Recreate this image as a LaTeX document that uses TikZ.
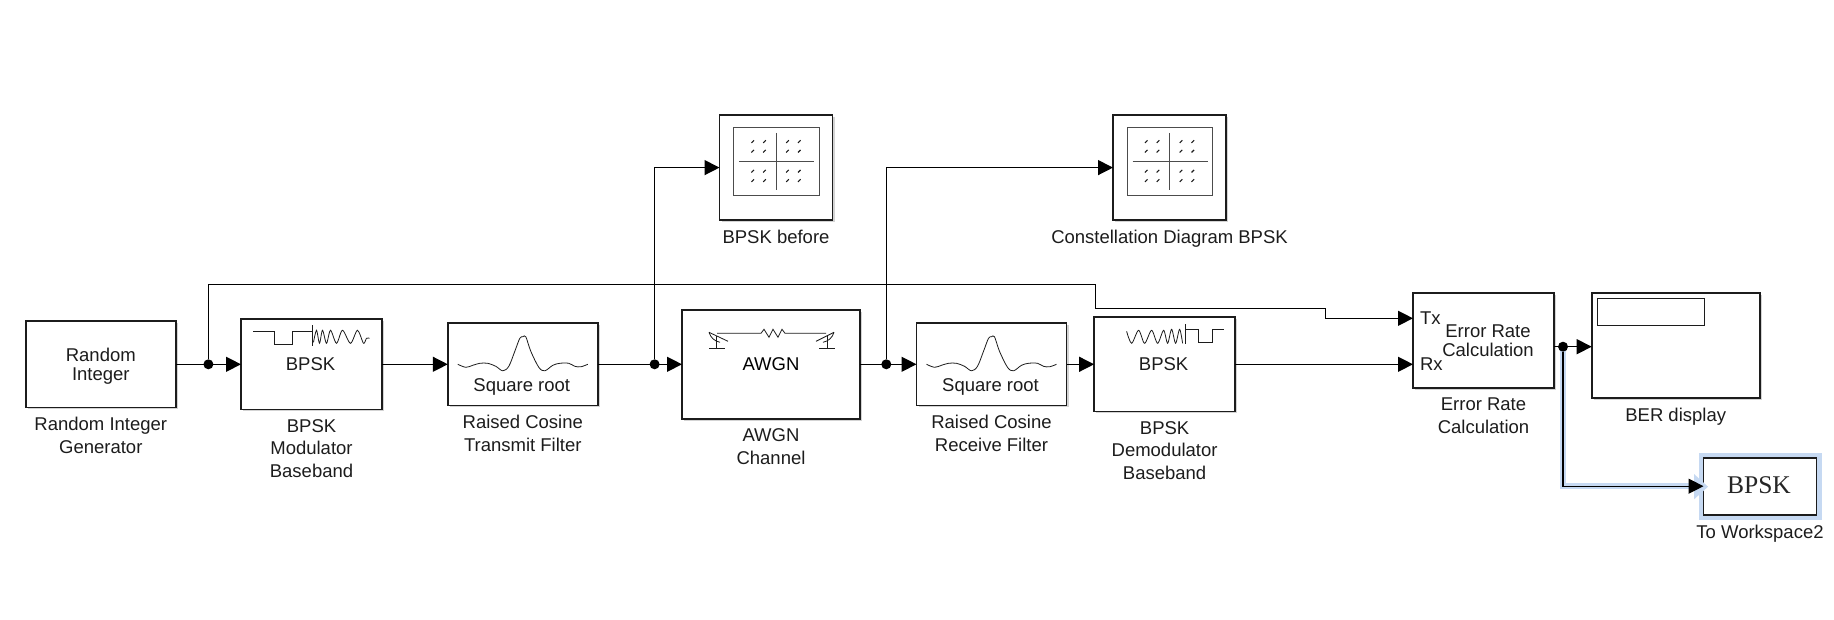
\documentclass[tikz,border=0pt]{standalone}
\usepackage{fontspec}
\setmainfont{Liberation Sans}
\newfontfamily\wsfont{Liberation Serif}
\usetikzlibrary{arrows.meta}
\usetikzlibrary{positioning}
\usetikzlibrary{shadows}
\definecolor{glowblue}{HTML}{C6D9F2}
\definecolor{inkdark}{HTML}{1C1C1C}
\tikzset{
    block/.style={draw=inkdark, line width=1.6pt, fill=white, rectangle, inner sep=0pt, outer sep=0pt, align=center,
        font=\fontsize{18.5}{19}\selectfont, drop shadow={shadow xshift=2pt, shadow yshift=-2pt, opacity=0.35, fill=gray}},
    caption/.style={inner sep=0pt, outer sep=0pt, align=center, font=\fontsize{18.5}{22.7}\selectfont, text=inkdark},
    intext/.style={inner sep=0pt, outer sep=0pt, align=center, font=\fontsize{18.5}{19}\selectfont, text=inkdark},
    wire/.style={line width=1.3pt, black},
    sig/.style={wire, -{Triangle[length=15pt,width=15pt]}},
    glow/.style={line width=5.5pt, glowblue},
    junct/.style={circle, fill=black, inner sep=0pt, outer sep=0pt, minimum size=10pt},
    icon/.style={line width=0.8pt, inkdark},
}
\begin{document}
\begin{tikzpicture}[x=1pt,y=-1pt]
    \useasboundingbox (0,0) rectangle (1834,620);

    % Bloecke
    \node[block, minimum width=150pt, minimum height=86pt] (randint) at (100.8,364.3) {};
    \node[block, minimum width=141pt, minimum height=90pt] (modbpsk) at (311.5,364.3) {};
    \node[block, minimum width=150pt, minimum height=82pt] (rctx) at (522.8,364.3) {};
    \node[block, minimum width=178pt, minimum height=109pt] (awgn) at (771,364.3) {AWGN};
    \node[block, minimum width=150pt, minimum height=82pt] (rcrx) at (991.5,364.3) {};
    \node[block, minimum width=141pt, minimum height=94pt] (dembpsk) at (1164.6,364.3) {};
    \node[block, minimum width=141pt, minimum height=95pt] (errcalc) at (1483.5,340.5) {};
    \node[block, minimum width=168pt, minimum height=105pt] (berdisp) at (1675.7,345.7) {};
    \node[block, minimum width=113pt, minimum height=105pt] (scopea) at (776,167.6) {};
    \node[block, minimum width=113pt, minimum height=105pt] (scopeb) at (1169.5,167.6) {};

    % Block mit Markierung
    \node[draw=inkdark, line width=1.6pt, fill=white, inner sep=0pt, outer sep=0pt, minimum width=113pt, minimum height=57pt,
        preaction={draw=glowblue, line width=10pt}] (towork) at (1760,486.2) {};

    % Texte in den Bloecken
    \node[intext] (randtext) at (100.8,366.3) {Random\\Integer};
    \node[intext] (modtext) at (310.5,364.3) {BPSK};
    \node[intext] (demtext) at (1163.6,364.3) {BPSK};
    \node[intext] (rctxtext) at (521.8,387) {Square root};
    \node[intext] (rcrxtext) at (990.5,387) {Square root};
    \node[intext] (errtext) at (1488,340.5) {Error Rate\\Calculation};
    \node[intext, anchor=west] (txtext) at (1420,317.7) {Tx};
    \node[intext, anchor=west] (rxtext) at (1420,364.5) {Rx};
    \node[text=black!85, inner sep=0pt, font=\wsfont\fontsize{25.5}{26}\selectfont] (wstext) at (1759,485) {BPSK};
    \node[draw=inkdark, line width=1.2pt, inner sep=0pt, outer sep=0pt, minimum width=107pt, minimum height=27pt] (berbox) at (1650.7,311.8) {};

    % Beschriftungen
    \node[caption, below=10pt of randint] (randintcap) {Random Integer\\Generator};
    \node[caption, below=10pt of modbpsk] (modbpskcap) {BPSK\\Modulator\\Baseband};
    \node[caption, below=10pt of rctx] (rctxcap) {Raised Cosine\\Transmit Filter};
    \node[caption, below=10pt of awgn] (awgncap) {AWGN\\Channel};
    \node[caption, below=10pt of rcrx] (rcrxcap) {Raised Cosine\\Receive Filter};
    \node[caption, below=10pt of dembpsk] (dembpskcap) {BPSK\\Demodulator\\Baseband};
    \node[caption, below=10pt of errcalc] (errcalccap) {Error Rate\\Calculation};
    \node[caption, below=10pt of berdisp] (berdispcap) {BER display};
    \node[caption, below=10pt of scopea] (scopeacap) {BPSK before};
    \node[caption, below=10pt of scopeb] (scopebcap) {Constellation Diagram BPSK};
    \node[caption, below=10pt of towork] (toworkcap) {To Workspace2};

    % Markierung der letzten Leitung
    \coordinate (jdmid) at (1563,346.7);
    \draw[glow] (jdmid) |- (towork.west);
    \fill[glowblue] (1694,474) -- (1708,486.7) -- (1694,499.4) -- cycle;

    % Verzweigungen und Knickpunkte
    \node[junct] (ja) at (208.4,364.3) {};
    \node[junct] (jb) at (654.6,364.3) {};
    \node[junct] (jc) at (886.3,364.3) {};
    \node[junct] (jd) at (jdmid) {};
    \coordinate (kinka) at (1095.5,284.3);
    \coordinate (kinkb) at (1325.6,308.3);
    \coordinate (txin) at (1413,318.3);
    \coordinate (rxin) at (1413,364.3);

    % Signalleitungen
    \draw[sig] (randint.east) -- (modbpsk.west);
    \draw[sig] (modbpsk.east) -- (rctx.west);
    \draw[sig] (rctx.east) -- (awgn.west);
    \draw[sig] (awgn.east) -- (rcrx.west);
    \draw[sig] (rcrx.east) -- (dembpsk.west);
    \draw[sig] (dembpsk.east) -- (rxin);
    \draw[sig] (jb) |- (scopea.west);
    \draw[sig] (jc) |- (scopeb.west);
    \draw[sig] (ja) |- (kinka) -- (kinka |- kinkb) -- (kinkb) |- (txin);
    \draw[sig] (errcalc.east |- jd) -- (berdisp.west |- jd);
    \draw[sig] (jd) |- (towork.west);

    % Kurven der Filter
    \foreach \filt in {rctx,rcrx} {
        \begin{scope}[shift={(\filt.center)}]
            \draw[icon] plot[smooth, tension=0.55] coordinates {(-65,0) (-57,3) (-50,1) (-43,-1) (-35,-1) (-27,2) (-20,6.5) (-14,2) (-8,-13) (-3,-26) (0,-27.5) (3,-27.5) (8,-13) (16,3) (22,6.5) (30,1) (37,-1) (46,-1) (52,2) (58,2.5) (65,0)};
        \end{scope}
    }

    % Modulator
    \begin{scope}[shift={(modbpsk.center)}]
        \draw[icon] (-58.5,-33.3) -- (-37.5,-33.3) -- (-37.5,-20.3) -- (-19,-20.3) -- (-19,-33.3) -- (1,-33.3);
        \draw[icon] (1,-39) -- (1,-18);
        \draw[icon] plot[smooth, tension=0.5] coordinates {(2,-22) (5,-34) (8,-21) (11,-34) (15,-21) (19,-34) (25,-21) (31,-34) (39,-21) (46,-34) (52,-21) (55,-26) (58,-26)};
    \end{scope}

    % Demodulator
    \begin{scope}[shift={(dembpsk.center)}]
        \draw[icon] plot[smooth, tension=0.5] coordinates {(-38,-33) (-33,-21) (-26,-34) (-20,-21) (-13,-34) (-7,-21) (-1,-34) (3,-21) (7,-35) (11,-21) (15,-35) (18,-21)};
        \draw[icon] (21,-40) -- (21,-20);
        \draw[icon] (21,-35) -- (33.7,-35) -- (33.7,-22) -- (47.3,-22) -- (47.3,-35) -- (59.3,-35);
    \end{scope}

    % Kanal
    \begin{scope}[shift={(awgn.center)}]
        \draw[icon] (-54,-31) -- (-10,-31) -- (-7,-35) -- (-2,-27) -- (2,-35) -- (7,-27) -- (11,-35) -- (14,-31) -- (55,-31);
        \draw[icon] (-62,-32) -- (-43,-23);
        \draw[icon] (-54.6,-28) -- (-54.6,-16);
        \draw[icon] (-62,-16) -- (-46,-16);
        \draw[icon] (-62,-32) to[bend right=30] (-51,-22);
        \draw[icon] (63,-32) -- (45,-23);
        \draw[icon] (56,-28) -- (56,-16);
        \draw[icon] (48,-16) -- (64,-16);
        \draw[icon] (63,-32) to[bend left=30] (52,-22);
    \end{scope}

    % Konstellationsanzeigen
    \foreach \sc in {scopea,scopeb} {
        \begin{scope}[shift={(\sc.center)}]
            \draw[line width=1pt, black!70] (-42.5,-40) rectangle (43.2,27.6);
            \draw[line width=1pt, black!70] (-37,-6.4) -- (38,-6.4);
            \draw[line width=1pt, black!70] (0.4,-34.7) -- (0.4,22);
            \foreach \x in {-23.3,-11.5,11.5,23.3} {
                \foreach \y in {-26,-16.4,3.6,13} {
                    \draw[line width=1.1pt, inkdark] (\x-1.3,\y+1.3) -- (\x+1.3,\y-1.3);
                }
            }
        \end{scope}
    }
\end{tikzpicture}
\end{document}
